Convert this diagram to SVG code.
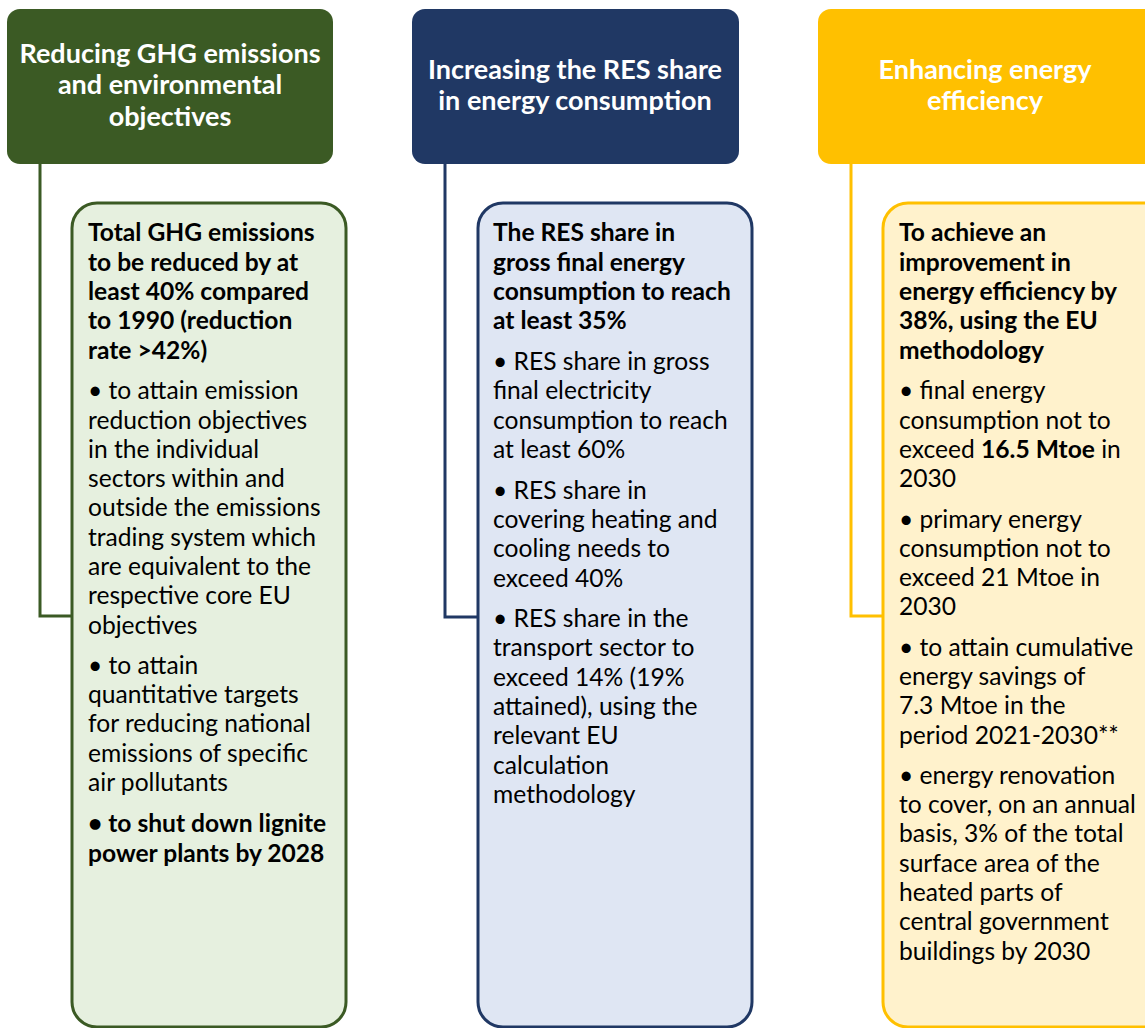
<svg xmlns="http://www.w3.org/2000/svg" width="1145" height="1028" viewBox="0 0 1145 1028">
<style>
.hdr{font-family:Lato,"Liberation Sans",sans-serif;font-weight:bold;font-size:27px;fill:#ffffff;text-anchor:middle}
.body{font-family:Lato,"Liberation Sans",sans-serif;font-size:24.6px;fill:#000000}
.b{font-weight:bold}
.conn{fill:none;stroke-width:3}
</style>
<rect width="1145" height="1028" fill="#ffffff"/>
<g id="connectors">
<path class="conn" d="M40,164 V616 H72" stroke="#3B5A24"/>
<path class="conn" d="M445,164 V617 H478" stroke="#203864"/>
<path class="conn" d="M851,164 V616 H883" stroke="#FFC000"/>
</g>
<g id="header-ghg">
<rect x="7" y="9" width="326" height="155" rx="13" fill="#3B5A24"/>
<text class="hdr"><tspan x="170" y="63">Reducing GHG emissions</tspan><tspan x="170" y="94">and environmental</tspan><tspan x="170" y="126">objectives</tspan></text>
</g>
<g id="header-res">
<rect x="412" y="9" width="327" height="155" rx="13" fill="#203864"/>
<text class="hdr"><tspan x="575" y="79">Increasing the RES share</tspan><tspan x="575" y="110">in energy consumption</tspan></text>
</g>
<g id="header-ee">
<rect x="818" y="9" width="340" height="155" rx="13" fill="#FFC000"/>
<text class="hdr"><tspan x="985" y="79">Enhancing energy</tspan><tspan x="985" y="110">efficiency</tspan></text>
</g>
<g id="box-ghg">
<rect x="72" y="203" width="274" height="824" rx="25" fill="#E6F0DF" stroke="#3B5A24" stroke-width="3"/>
<text class="body">
<tspan class="b" x="88" y="241">Total GHG emissions</tspan>
<tspan class="b" x="88" y="271">to be reduced by at</tspan>
<tspan class="b" x="88" y="300">least 40% compared</tspan>
<tspan class="b" x="88" y="329">to 1990 (reduction</tspan>
<tspan class="b" x="88" y="359">rate &gt;42%)</tspan>
<tspan x="88" y="399">• to attain emission</tspan>
<tspan x="88" y="429">reduction objectives</tspan>
<tspan x="88" y="458">in the individual</tspan>
<tspan x="88" y="487">sectors within and</tspan>
<tspan x="88" y="516">outside the emissions</tspan>
<tspan x="88" y="546">trading system which</tspan>
<tspan x="88" y="575">are equivalent to the</tspan>
<tspan x="88" y="604">respective core EU</tspan>
<tspan x="88" y="634">objectives</tspan>
<tspan x="88" y="674">• to attain</tspan>
<tspan x="88" y="703">quantitative targets</tspan>
<tspan x="88" y="732">for reducing national</tspan>
<tspan x="88" y="762">emissions of specific</tspan>
<tspan x="88" y="791">air pollutants</tspan>
<tspan class="b" x="88" y="832">• to shut down lignite</tspan>
<tspan class="b" x="88" y="862">power plants by 2028</tspan>
</text>
</g>
<g id="box-res">
<rect x="478" y="203" width="274" height="824" rx="25" fill="#DFE6F3" stroke="#203864" stroke-width="3"/>
<text class="body">
<tspan class="b" x="493" y="241">The RES share in</tspan>
<tspan class="b" x="493" y="271">gross final energy</tspan>
<tspan class="b" x="493" y="300">consumption to reach</tspan>
<tspan class="b" x="493" y="329">at least 35%</tspan>
<tspan x="493" y="370">• RES share in gross</tspan>
<tspan x="493" y="399">final electricity</tspan>
<tspan x="493" y="429">consumption to reach</tspan>
<tspan x="493" y="458">at least 60%</tspan>
<tspan x="493" y="499">• RES share in</tspan>
<tspan x="493" y="528">covering heating and</tspan>
<tspan x="493" y="557">cooling needs to</tspan>
<tspan x="493" y="587">exceed 40%</tspan>
<tspan x="493" y="627">• RES share in the</tspan>
<tspan x="493" y="656">transport sector to</tspan>
<tspan x="493" y="686">exceed 14% (19%</tspan>
<tspan x="493" y="715">attained), using the</tspan>
<tspan x="493" y="744">relevant EU</tspan>
<tspan x="493" y="774">calculation</tspan>
<tspan x="493" y="803">methodology</tspan>
</text>
</g>
<g id="box-ee">
<rect x="883" y="203" width="290" height="824" rx="25" fill="#FFF2CC" stroke="#FFC000" stroke-width="3"/>
<text class="body">
<tspan class="b" x="899" y="241">To achieve an</tspan>
<tspan class="b" x="899" y="271">improvement in</tspan>
<tspan class="b" x="899" y="300">energy efficiency by</tspan>
<tspan class="b" x="899" y="329">38%, using the EU</tspan>
<tspan class="b" x="899" y="359">methodology</tspan>
<tspan x="899" y="399">• final energy</tspan>
<tspan x="899" y="429">consumption not to</tspan>
<tspan x="899" y="458">exceed <tspan class="b">16.5 Mtoe</tspan> in</tspan>
<tspan x="899" y="487">2030</tspan>
<tspan x="899" y="528">• primary energy</tspan>
<tspan x="899" y="557">consumption not to</tspan>
<tspan x="899" y="586">exceed 21 Mtoe in</tspan>
<tspan x="899" y="615">2030</tspan>
<tspan x="899" y="656">• to attain cumulative</tspan>
<tspan x="899" y="685">energy savings of</tspan>
<tspan x="899" y="714">7.3 Mtoe in the</tspan>
<tspan x="899" y="744">period 2021-2030**</tspan>
<tspan x="899" y="784">• energy renovation</tspan>
<tspan x="899" y="813">to cover, on an annual</tspan>
<tspan x="899" y="842">basis, 3% of the total</tspan>
<tspan x="899" y="872">surface area of the</tspan>
<tspan x="899" y="901">heated parts of</tspan>
<tspan x="899" y="930">central government</tspan>
<tspan x="899" y="960">buildings by 2030</tspan>
</text>
</g>
</svg>
